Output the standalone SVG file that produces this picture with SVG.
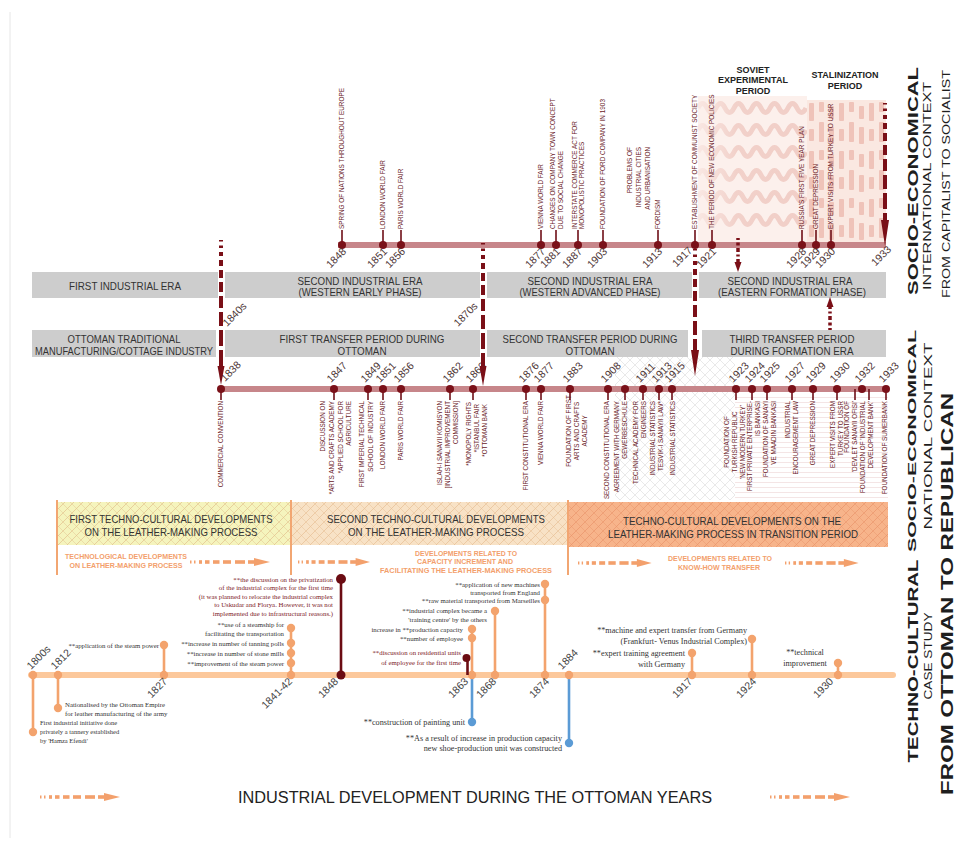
<svg xmlns="http://www.w3.org/2000/svg" width="963" height="847" viewBox="0 0 963 847">
<style>
  .sans{font-family:"Liberation Sans",Arial,sans-serif}
  .tl{font-family:"Liberation Sans",Arial,sans-serif;font-size:6.4px;fill:#6a2127}
  .nl{font-family:"Liberation Sans",Arial,sans-serif;font-size:6.3px;fill:#6a2127}
  .yr{font-family:"Liberation Sans",Arial,sans-serif;font-size:10.5px;fill:#4d3535}
  .yc{font-family:"Liberation Sans",Arial,sans-serif;font-size:10.5px;fill:#444}
  .bt{font-family:"Liberation Sans",Arial,sans-serif;font-size:11.5px;fill:#333;text-anchor:middle}
  .ot{font-family:"Liberation Sans",Arial,sans-serif;font-size:6.3px;font-weight:bold;fill:#f3a06c;text-anchor:middle}
  .cs{font-family:"Liberation Serif","Times New Roman",serif;font-size:6.8px;fill:#333}
  .cm{font-family:"Liberation Serif","Times New Roman",serif;font-size:6.8px;fill:#7d1a1f}
  .cl{font-family:"Liberation Serif","Times New Roman",serif;font-size:8.2px;fill:#333}
  .ti{font-family:"Liberation Sans",Arial,sans-serif;font-size:9px;font-weight:bold;fill:#222;text-anchor:middle}
  .side{font-family:"Liberation Sans",Arial,sans-serif;fill:#1e1e1e;text-anchor:middle}
  .band{fill:#cdcdcd}
  .stM{stroke:#6e0f17;stroke-width:1.6}
  .dM{fill:#7a1119}
  .mdash{stroke:#7a0f17;stroke-width:4;stroke-dasharray:1.5 4 2.5 4 4 4 6 4 8 4 10 4 12 4 14 4 16 4 18 4 20 4 22 4}
  .mtri{fill:#7a0f17}
  .so{stroke:#f3a36d;stroke-width:2.6}
  .do{fill:#f3a36d}
  .sm{stroke:#6b0c13;stroke-width:2.6}
  .dm{fill:#6b0c13}
  .sb{stroke:#5b9bd5;stroke-width:2.6}
  .db{fill:#5b9bd5}
  .wave{fill:none;stroke:url(#waveFade);stroke-width:5}
  .vl{stroke:#f2a672;stroke-width:2}
</style>
<defs>
  <linearGradient id="waveFade" x1="0" y1="0" x2="1" y2="0">
    <stop offset="0" stop-color="#edc2ba" stop-opacity="0.2"/>
    <stop offset="0.35" stop-color="#ebbcb3" stop-opacity="0.6"/>
    <stop offset="1" stop-color="#ebbcb3" stop-opacity="0.65"/>
  </linearGradient>
  <pattern id="stal" patternUnits="userSpaceOnUse" x="807" y="100" width="30" height="48">
    <rect width="30" height="48" fill="#fae8e1"/>
    <rect x="2" y="3" width="5" height="18" rx="1" fill="#efc3b9"/>
    <rect x="12" y="22" width="5" height="20" rx="1" fill="#efc3b9"/>
    <rect x="22" y="6" width="5" height="13" rx="1" fill="#efc3b9"/>
    <rect x="2" y="29" width="5" height="12" rx="1" fill="#efc3b9"/>
    <rect x="22" y="27" width="5" height="17" rx="1" fill="#efc3b9"/>
    <rect x="12" y="2" width="5" height="10" rx="1" fill="#efc3b9"/>
  </pattern>
  <pattern id="hY" patternUnits="userSpaceOnUse" width="9" height="9">
    <rect width="9" height="9" fill="#f5f4bd"/>
    <path d="M0,9 L9,0 M-2,2 L2,-2 M7,11 L11,7" stroke="#e2c08c" stroke-width="0.7"/>
    <path d="M0,0 L9,9" stroke="#e2c08c" stroke-width="0.45"/>
  </pattern>
  <pattern id="hP" patternUnits="userSpaceOnUse" width="9" height="9">
    <rect width="9" height="9" fill="#f8e2c6"/>
    <path d="M0,9 L9,0 M-2,2 L2,-2 M7,11 L11,7" stroke="#e6bf93" stroke-width="0.7"/>
    <path d="M0,0 L9,9" stroke="#e6bf93" stroke-width="0.45"/>
  </pattern>
  <pattern id="hO" patternUnits="userSpaceOnUse" width="9" height="9">
    <rect width="9" height="9" fill="#f7b48b"/>
    <path d="M0,9 L9,0 M-2,2 L2,-2 M7,11 L11,7" stroke="#e8946a" stroke-width="0.7"/>
    <path d="M0,0 L9,9" stroke="#e8946a" stroke-width="0.45"/>
  </pattern>
  <pattern id="xg" patternUnits="userSpaceOnUse" width="10" height="10">
    <path d="M0,10 L10,0 M0,0 L10,10" stroke="#d6d6d6" stroke-width="0.55"/>
  </pattern>
  <pattern id="hl" patternUnits="userSpaceOnUse" width="10" height="5">
    <path d="M0,2.5 L10,2.5" stroke="#efdada" stroke-width="0.7"/>
  </pattern>
  <!-- dashed orange progress arrow, 80 units long, centred on y=0 -->
  <g id="oarrow" fill="#f3a06c">
    <rect x="0" y="-1.5" width="1.5" height="3"/>
    <rect x="4" y="-1.5" width="1.5" height="3"/>
    <rect x="9" y="-1.8" width="3" height="3.6"/>
    <rect x="15" y="-1.8" width="4.5" height="3.6"/>
    <rect x="23" y="-1.8" width="6.5" height="3.6"/>
    <rect x="33" y="-1.8" width="8" height="3.6"/>
    <rect x="45" y="-1.8" width="10" height="3.6"/>
    <rect x="58" y="-1.8" width="8" height="3.6"/>
    <polygon points="64,-4 80,0 64,4"/>
  </g>
</defs>

<rect width="963" height="847" fill="#ffffff"/>
<line x1="10" y1="12" x2="10" y2="838" stroke="#e6e6e6" stroke-width="1"/>

<!-- ============ INTERNATIONAL CONTEXT ============ -->
<g id="soviet-experimental">
  <rect x="698" y="96" width="109" height="146" fill="#fcf0ec"/>
  <path class="wave" d="M698,108 q4.5,-9 9,0 t9,0 t9,0 t9,0 t9,0 t9,0 t9,0 t9,0 t9,0 t9,0 t9,0 t9,0"/>
  <path class="wave" d="M698,130 q4.5,-9 9,0 t9,0 t9,0 t9,0 t9,0 t9,0 t9,0 t9,0 t9,0 t9,0 t9,0 t9,0"/>
  <path class="wave" d="M698,152 q4.5,-9 9,0 t9,0 t9,0 t9,0 t9,0 t9,0 t9,0 t9,0 t9,0 t9,0 t9,0 t9,0"/>
  <path class="wave" d="M698,175 q4.5,-9 9,0 t9,0 t9,0 t9,0 t9,0 t9,0 t9,0 t9,0 t9,0 t9,0 t9,0 t9,0"/>
  <path class="wave" d="M698,197 q4.5,-9 9,0 t9,0 t9,0 t9,0 t9,0 t9,0 t9,0 t9,0 t9,0 t9,0 t9,0 t9,0"/>
  <path class="wave" d="M698,220 q4.5,-9 9,0 t9,0 t9,0 t9,0 t9,0 t9,0 t9,0 t9,0 t9,0 t9,0 t9,0 t9,0"/>
  <text class="ti" x="753" y="73">SOVIET</text>
  <text class="ti" x="753" y="83">EXPERIMENTAL</text>
  <text class="ti" x="753" y="94">PERIOD</text>
</g>
<g id="stalinization">
  <rect x="807" y="100" width="79" height="142" fill="url(#stal)"/>
  <text class="ti" x="845" y="78">STALINIZATION</text>
  <text class="ti" x="845" y="89">PERIOD</text>
</g>

<g id="intl-timeline">
  <rect x="338" y="242" width="548" height="6" fill="#c7868a"/>
</g>

<g id="intl-1848"><line class="stM" x1="342" y1="245" x2="342" y2="230"/><circle class="dM" cx="342" cy="245" r="4"/>
  <text class="tl" transform="translate(344.2,229) rotate(-90)">SPRING OF NATIONS THROUGHOUT EUROPE</text>
  <text class="yr" text-anchor="end" transform="translate(347,252) rotate(-45)">1848</text></g>
<g id="intl-1851"><line class="stM" x1="383" y1="245" x2="383" y2="230"/><circle class="dM" cx="383" cy="245" r="4"/>
  <text class="tl" transform="translate(385.2,229) rotate(-90)">LONDON WORLD FAIR</text>
  <text class="yr" text-anchor="end" transform="translate(388,252) rotate(-45)">1851</text></g>
<g id="intl-1856"><line class="stM" x1="401" y1="245" x2="401" y2="230"/><circle class="dM" cx="401" cy="245" r="4"/>
  <text class="tl" transform="translate(403.2,229) rotate(-90)">PARIS WORLD FAIR</text>
  <text class="yr" text-anchor="end" transform="translate(406,252) rotate(-45)">1856</text></g>
<g id="intl-1877"><line class="stM" x1="541" y1="245" x2="541" y2="230"/><circle class="dM" cx="541" cy="245" r="4"/>
  <text class="tl" transform="translate(543.2,229) rotate(-90)">VIENNA WORLD FAIR</text>
  <text class="yr" text-anchor="end" transform="translate(546,252) rotate(-45)">1877</text></g>
<g id="intl-1881"><line class="stM" x1="556" y1="245" x2="556" y2="230"/><circle class="dM" cx="556" cy="245" r="4"/>
  <text class="tl" transform="translate(554.7,229) rotate(-90)">CHANGES ON COMPANY TOWN CONCEPT</text>
  <text class="tl" transform="translate(562.7,229) rotate(-90)">DUE TO SOCIAL CHANGE</text>
  <text class="yr" text-anchor="end" transform="translate(561,252) rotate(-45)">1881</text></g>
<g id="intl-1887"><line class="stM" x1="578" y1="245" x2="578" y2="230"/><circle class="dM" cx="578" cy="245" r="4"/>
  <text class="tl" transform="translate(576.7,229) rotate(-90)">INTERSTATE COMMERCE ACT FOR</text>
  <text class="tl" transform="translate(584.2,229) rotate(-90)">MONOPOLISTIC PRACTICES</text>
  <text class="yr" text-anchor="end" transform="translate(583,252) rotate(-45)">1887</text></g>
<g id="intl-1903"><line class="stM" x1="603" y1="245" x2="603" y2="230"/><circle class="dM" cx="603" cy="245" r="4"/>
  <text class="tl" transform="translate(605.2,229) rotate(-90)">FOUNDATION OF FORD COMPANY IN 1903</text>
  <text class="yr" text-anchor="end" transform="translate(608,252) rotate(-45)">1903</text></g>
<g id="intl-1913"><line class="stM" x1="658" y1="245" x2="658" y2="230"/><circle class="dM" cx="658" cy="245" r="4"/>
  <text class="tl" transform="translate(660.2,229) rotate(-90)">FORDISM</text>
  <text class="tl" text-anchor="end" transform="translate(632.2,147) rotate(-90)">PROBLEMS OF</text>
  <text class="tl" text-anchor="end" transform="translate(641.2,147) rotate(-90)">INDUSTRIAL CITIES</text>
  <text class="tl" text-anchor="end" transform="translate(649.7,147) rotate(-90)">AND URBANISATION</text>
  <text class="yr" text-anchor="end" transform="translate(663,252) rotate(-45)">1913</text></g>
<g id="intl-1917"><line class="stM" x1="695" y1="245" x2="695" y2="230"/><circle class="dM" cx="695" cy="245" r="4"/>
  <text class="tl" transform="translate(697.2,229) rotate(-90)">ESTABLISHMENT OF COMMUNIST SOCIETY</text>
  <text class="yr" text-anchor="end" transform="translate(693,251) rotate(-45)">1917</text></g>
<g id="intl-1921"><line class="stM" x1="712" y1="245" x2="712" y2="230"/><circle class="dM" cx="712" cy="245" r="4"/>
  <text class="tl" transform="translate(714.2,229) rotate(-90)">THE PERIOD OF NEW ECONOMIC POLICIES</text>
  <text class="yr" text-anchor="end" transform="translate(717,252) rotate(-45)">1921</text></g>
<g id="intl-1928"><line class="stM" x1="802" y1="245" x2="802" y2="230"/><circle class="dM" cx="802" cy="245" r="4"/>
  <text class="tl" transform="translate(804.2,229) rotate(-90)">RUSSIA'S FIRST FIVE YEAR PLAN</text>
  <text class="yr" text-anchor="end" transform="translate(807,252) rotate(-45)">1928</text></g>
<g id="intl-1929"><line class="stM" x1="816" y1="245" x2="816" y2="230"/><circle class="dM" cx="816" cy="245" r="4"/>
  <text class="tl" transform="translate(818.2,229) rotate(-90)">GREAT DEPRESSION</text>
  <text class="yr" text-anchor="end" transform="translate(821,252) rotate(-45)">1929</text></g>
<g id="intl-1930"><line class="stM" x1="831" y1="245" x2="831" y2="230"/><circle class="dM" cx="831" cy="245" r="4"/>
  <text class="tl" transform="translate(833.2,229) rotate(-90)">EXPERT VISITS FROM TURKEY TO USSR</text>
  <text class="yr" text-anchor="end" transform="translate(836,252) rotate(-45)">1930</text></g>
<g id="intl-1933">
  <text class="yr" text-anchor="end" transform="translate(892,250) rotate(-45)">1933</text></g>

<!-- era bands -->
<g id="era-first"><rect class="band" x="32" y="272" width="186" height="26"/>
  <text class="bt" x="125" y="289.5" textLength="112" lengthAdjust="spacingAndGlyphs">FIRST INDUSTRIAL ERA</text></g>
<g id="era-western-early"><rect class="band" x="225" y="272" width="255" height="26"/>
  <text class="bt" x="360" y="284.5" textLength="125" lengthAdjust="spacingAndGlyphs">SECOND INDUSTRIAL ERA</text>
  <text class="bt" x="360" y="296" textLength="123" lengthAdjust="spacingAndGlyphs">(WESTERN EARLY PHASE)</text></g>
<g id="era-western-advanced"><rect class="band" x="487" y="272" width="205" height="26"/>
  <text class="bt" x="590" y="284.5" textLength="125" lengthAdjust="spacingAndGlyphs">SECOND INDUSTRIAL ERA</text>
  <text class="bt" x="590" y="296" textLength="141" lengthAdjust="spacingAndGlyphs">(WESTERN ADVANCED PHASE)</text></g>
<g id="era-eastern"><rect class="band" x="699" y="272" width="187" height="26"/>
  <text class="bt" x="790" y="284.5" textLength="125" lengthAdjust="spacingAndGlyphs">SECOND INDUSTRIAL ERA</text>
  <text class="bt" x="792" y="296" textLength="148" lengthAdjust="spacingAndGlyphs">(EASTERN FORMATION PHASE)</text></g>

<g id="transfer-traditional"><rect class="band" x="32" y="330" width="184" height="27"/>
  <text class="bt" x="124" y="342.5" textLength="113" lengthAdjust="spacingAndGlyphs">OTTOMAN TRADITIONAL</text>
  <text class="bt" x="124" y="355" textLength="178" lengthAdjust="spacingAndGlyphs">MANUFACTURING/COTTAGE INDUSTRY</text></g>
<g id="transfer-first"><rect class="band" x="225" y="330" width="255" height="27"/>
  <text class="bt" x="362" y="342.5" textLength="165" lengthAdjust="spacingAndGlyphs">FIRST TRANSFER PERIOD DURING</text>
  <text class="bt" x="362" y="355" textLength="49" lengthAdjust="spacingAndGlyphs">OTTOMAN</text></g>
<g id="transfer-second"><rect class="band" x="487" y="330" width="201" height="27"/>
  <text class="bt" x="590" y="342.5" textLength="175" lengthAdjust="spacingAndGlyphs">SECOND TRANSFER PERIOD DURING</text>
  <text class="bt" x="590" y="355" textLength="49" lengthAdjust="spacingAndGlyphs">OTTOMAN</text></g>
<g id="transfer-third"><rect class="band" x="702" y="330" width="184" height="27"/>
  <text class="bt" x="792" y="342.5" textLength="125" lengthAdjust="spacingAndGlyphs">THIRD TRANSFER PERIOD</text>
  <text class="bt" x="792" y="355" textLength="123" lengthAdjust="spacingAndGlyphs">DURING FORMATION ERA</text></g>

<!-- ============ NATIONAL CONTEXT ============ -->
<g id="nat-texture">
  <rect x="615" y="357" width="120" height="143" fill="url(#xg)"/>
  <rect x="735" y="394" width="153" height="106" fill="url(#hl)"/>
</g>
<g id="nat-timeline"><rect x="218" y="386" width="668" height="6" fill="#c7868a"/></g>

<g id="nat-1838"><line class="stM" x1="221" y1="389" x2="221" y2="400"/><circle class="dM" cx="221" cy="389" r="4"/>
  <text class="nl" text-anchor="end" transform="translate(223.3,401) rotate(-90)">COMMERCIAL CONVENTION</text>
  <text class="yr" transform="translate(225,382) rotate(-45)">1838</text></g>
<g id="nat-1847"><line class="stM" x1="334" y1="389" x2="334" y2="400"/><circle class="dM" cx="334" cy="389" r="4"/>
  <text class="nl" text-anchor="end" transform="translate(325.3,401) rotate(-90)">DISCUSSION ON</text>
  <text class="nl" text-anchor="end" transform="translate(334.3,401) rotate(-90)">*ARTS AND CRAFTS ACADEMY</text>
  <text class="nl" text-anchor="end" transform="translate(343.3,401) rotate(-90)">*APPLIED SCHOOL FOR</text>
  <text class="nl" text-anchor="end" transform="translate(351.3,401) rotate(-90)">AGRICULTURE</text>
  <text class="yr" transform="translate(331,383) rotate(-45)">1847</text></g>
<g id="nat-1849"><line class="stM" x1="368" y1="389" x2="368" y2="400"/><circle class="dM" cx="368" cy="389" r="4"/>
  <text class="nl" text-anchor="end" transform="translate(364.3,401) rotate(-90)">FIRST IMPERIAL TECHNICAL</text>
  <text class="nl" text-anchor="end" transform="translate(373.3,401) rotate(-90)">SCHOOL OF INDUSTRY</text>
  <text class="yr" transform="translate(365,383) rotate(-45)">1849</text></g>
<g id="nat-1851"><line class="stM" x1="383" y1="389" x2="383" y2="400"/><circle class="dM" cx="383" cy="389" r="4"/>
  <text class="nl" text-anchor="end" transform="translate(385.3,401) rotate(-90)">LONDON WORLD FAIR</text>
  <text class="yr" transform="translate(380,383) rotate(-45)">1851</text></g>
<g id="nat-1856"><line class="stM" x1="401" y1="389" x2="401" y2="400"/><circle class="dM" cx="401" cy="389" r="4"/>
  <text class="nl" text-anchor="end" transform="translate(403.3,401) rotate(-90)">PARIS WORLD FAIR</text>
  <text class="yr" transform="translate(398,383) rotate(-45)">1856</text></g>
<g id="nat-1862"><line class="stM" x1="450" y1="389" x2="450" y2="400"/><circle class="dM" cx="450" cy="389" r="4"/>
  <text class="nl" text-anchor="end" transform="translate(442.3,401) rotate(-90)">ISLAH-I SANAYII KOMISYON</text>
  <text class="nl" text-anchor="end" transform="translate(450.3,401) rotate(-90)">[INDUSTRIAL IMPROVEMENT</text>
  <text class="nl" text-anchor="end" transform="translate(458.3,401) rotate(-90)">COMMISSION]</text>
  <text class="yr" transform="translate(447,383) rotate(-45)">1862</text></g>
<g id="nat-1863"><line class="stM" x1="473" y1="389" x2="473" y2="400"/><circle class="dM" cx="473" cy="389" r="4"/>
  <text class="nl" text-anchor="end" transform="translate(471.3,402) rotate(-90)">*MONOPOLY RIGHTS</text>
  <text class="nl" text-anchor="end" transform="translate(479.3,404) rotate(-90)">*ISTANBUL FAIR</text>
  <text class="nl" text-anchor="end" transform="translate(487.3,404) rotate(-90)">*OTTOMAN BANK</text>
  <text class="yr" transform="translate(470,383) rotate(-45)">1863</text></g>
<g id="nat-1876"><line class="stM" x1="526" y1="389" x2="526" y2="400"/><circle class="dM" cx="526" cy="389" r="4"/>
  <text class="nl" text-anchor="end" transform="translate(528.3,401) rotate(-90)">FIRST CONSTITUTIONAL ERA</text>
  <text class="yr" transform="translate(523,383) rotate(-45)">1876</text></g>
<g id="nat-1877"><line class="stM" x1="541" y1="389" x2="541" y2="400"/><circle class="dM" cx="541" cy="389" r="4"/>
  <text class="nl" text-anchor="end" transform="translate(543.3,401) rotate(-90)">VIENNA WORLD FAIR</text>
  <text class="yr" transform="translate(538,383) rotate(-45)">1877</text></g>
<g id="nat-1883"><line class="stM" x1="570" y1="389" x2="570" y2="400"/><circle class="dM" cx="570" cy="389" r="4"/>
  <text class="nl" text-anchor="middle" transform="translate(571.3,431) rotate(-90)">FOUNDATION OF FIRST</text>
  <text class="nl" text-anchor="middle" transform="translate(579.3,431) rotate(-90)">ARTS AND CRAFTS</text>
  <text class="nl" text-anchor="middle" transform="translate(587.3,431) rotate(-90)">ACADEMY</text>
  <text class="yr" transform="translate(567,383) rotate(-45)">1883</text></g>
<g id="nat-1908"><line class="stM" x1="608" y1="389" x2="608" y2="400"/><circle class="dM" cx="608" cy="389" r="4"/>
  <text class="nl" text-anchor="end" transform="translate(609.3,401) rotate(-90)">SECOND CONSTITUTIONAL ERA</text>
  <text class="yr" transform="translate(605,383) rotate(-45)">1908</text></g>
<g id="nat-1908-germany"><line class="stM" x1="625" y1="389" x2="625" y2="400"/><circle class="dM" cx="625" cy="389" r="4"/>
  <text class="nl" text-anchor="end" transform="translate(619.3,401) rotate(-90)">AGREEMENT WITH GERMANY</text>
  <text class="nl" text-anchor="end" transform="translate(627.3,401) rotate(-90)">GEWERBESCHULE</text></g>
<g id="nat-1911"><line class="stM" x1="643" y1="389" x2="643" y2="400"/><circle class="dM" cx="643" cy="389" r="4"/>
  <text class="nl" text-anchor="end" transform="translate(638.3,401) rotate(-90)">TECHNICAL ACADEMY FOR</text>
  <text class="nl" text-anchor="end" transform="translate(646.3,401) rotate(-90)">ENGINEERS</text>
  <text class="yr" transform="translate(640,383) rotate(-45)">1911</text></g>
<g id="nat-1913"><line class="stM" x1="659" y1="389" x2="659" y2="400"/><circle class="dM" cx="659" cy="389" r="4"/>
  <text class="nl" text-anchor="end" transform="translate(655.3,401) rotate(-90)">INDUSTRIAL STATISTICS</text>
  <text class="nl" text-anchor="end" transform="translate(663.3,401) rotate(-90)">TESVIK-I SANAYII LAW*</text>
  <text class="yr" transform="translate(656,383) rotate(-45)">1913</text></g>
<g id="nat-1915"><line class="stM" x1="672" y1="389" x2="672" y2="400"/><circle class="dM" cx="672" cy="389" r="4"/>
  <text class="nl" text-anchor="end" transform="translate(675.3,401) rotate(-90)">INDUSTRIAL STATISTICS</text>
  <text class="yr" transform="translate(669,383) rotate(-45)">1915</text></g>
<g id="nat-1923"><line class="stM" x1="736" y1="389" x2="736" y2="400"/><circle class="dM" cx="736" cy="389" r="4"/>
  <text class="nl" text-anchor="middle" transform="translate(729.3,442) rotate(-90)">FOUNDATION OF</text>
  <text class="nl" text-anchor="middle" transform="translate(737.3,442) rotate(-90)">TURKISH REPUBLIC</text>
  <text class="nl" text-anchor="middle" transform="translate(745.3,442) rotate(-90)">'NEW MODERN TURKEY'</text>
  <text class="yr" transform="translate(733,383) rotate(-45)">1923</text></g>
<g id="nat-1924"><line class="stM" x1="752" y1="389" x2="752" y2="400"/><circle class="dM" cx="752" cy="389" r="4"/>
  <text class="nl" text-anchor="end" transform="translate(752.3,401) rotate(-90)">FIRST PRIVATE ENTERPRISE-</text>
  <text class="nl" text-anchor="end" transform="translate(760.3,401) rotate(-90)">IS BANKASI</text>
  <text class="yr" transform="translate(749,383) rotate(-45)">1924</text></g>
<g id="nat-1925"><line class="stM" x1="767" y1="389" x2="767" y2="400"/><circle class="dM" cx="767" cy="389" r="4"/>
  <text class="nl" text-anchor="end" transform="translate(768.3,401) rotate(-90)">FOUNDATION OF SANAYI</text>
  <text class="nl" text-anchor="end" transform="translate(776.3,401) rotate(-90)">VE MAADIN BANKASI</text>
  <text class="yr" transform="translate(764,383) rotate(-45)">1925</text></g>
<g id="nat-1927"><line class="stM" x1="792" y1="389" x2="792" y2="400"/><circle class="dM" cx="792" cy="389" r="4"/>
  <text class="nl" text-anchor="end" transform="translate(790.3,401) rotate(-90)">INDUSTRIAL</text>
  <text class="nl" text-anchor="end" transform="translate(798.3,401) rotate(-90)">ENCOURAGEMENT LAW</text>
  <text class="yr" transform="translate(789,383) rotate(-45)">1927</text></g>
<g id="nat-1929"><line class="stM" x1="813" y1="389" x2="813" y2="400"/><circle class="dM" cx="813" cy="389" r="4"/>
  <text class="nl" text-anchor="end" transform="translate(815.3,401) rotate(-90)">GREAT DEPRESSION</text>
  <text class="yr" transform="translate(810,383) rotate(-45)">1929</text></g>
<g id="nat-1930"><line class="stM" x1="837" y1="389" x2="837" y2="400"/><circle class="dM" cx="837" cy="389" r="4"/>
  <text class="nl" text-anchor="end" transform="translate(835.3,401) rotate(-90)">EXPERT VISITS FROM</text>
  <text class="nl" text-anchor="end" transform="translate(843.3,401) rotate(-90)">TURKEY TO USSR</text>
  <text class="yr" transform="translate(834,383) rotate(-45)">1930</text></g>
<g id="nat-1932"><line class="stM" x1="855" y1="389" x2="855" y2="400"/><line class="stM" x1="869" y1="389" x2="869" y2="400"/><circle class="dM" cx="862" cy="389" r="4"/>
  <text class="nl" text-anchor="end" transform="translate(849.3,401) rotate(-90)">FOUNDATION OF</text>
  <text class="nl" text-anchor="end" transform="translate(857.3,401) rotate(-90)">'DEVLET SANAYII OFISI'</text>
  <text class="nl" text-anchor="end" transform="translate(865.3,401) rotate(-90)">FOUNDATION OF 'INDUSTRIAL</text>
  <text class="nl" text-anchor="end" transform="translate(873.3,401) rotate(-90)">DEVELOPMENT BANK'</text>
  <text class="yr" transform="translate(859,383) rotate(-45)">1932</text></g>
<g id="nat-1933"><line class="stM" x1="886" y1="389" x2="886" y2="400"/><circle class="dM" cx="886" cy="389" r="4"/>
  <text class="nl" text-anchor="end" transform="translate(887.3,401) rotate(-90)">FOUNDATION OF SUMERBANK</text>
  <text class="yr" transform="translate(883,383) rotate(-45)">1933</text></g>

<!-- period divider arrows -->
<g id="connectors">
  <line class="mdash" x1="221" y1="240" x2="221" y2="368"/>
  <polygon class="mtri" points="217.5,366 224.5,366 221,385"/>
  <text class="yr" transform="translate(227,327) rotate(-45)">1840s</text>
  <line class="mdash" x1="483" y1="243" x2="483" y2="368"/>
  <polygon class="mtri" points="479.5,366 486.5,366 483,386"/>
  <text class="yr" transform="translate(458,327) rotate(-45)">1870s</text>
  <line class="mdash" x1="695" y1="249" x2="695" y2="352"/>
  <polygon class="mtri" points="691,350 699,350 695,376"/>
  <line class="mdash" x1="885" y1="103" x2="885" y2="222"/>
  <polygon class="mtri" points="881,220 889,220 885,246"/>
  <line stroke="#7a0f17" stroke-width="3.5" stroke-dasharray="2 2.5 3 2.5 4 2.5" x1="738" y1="238" x2="738" y2="263"/>
  <polygon class="mtri" points="734.5,262 741.5,262 738,272"/>
  <line stroke="#7a0f17" stroke-width="3.5" stroke-dasharray="2 2.5 3 2.5 4 2.5" x1="830" y1="330" x2="830" y2="306"/>
  <polygon class="mtri" points="826.5,307 833.5,307 830,297"/>
</g>

<!-- ============ TECHNO-CULTURAL BANDS ============ -->
<g id="techno-first">
  <rect x="57" y="502" width="234" height="43" fill="url(#hY)"/>
  <text class="bt" x="171" y="523" textLength="203" lengthAdjust="spacingAndGlyphs">FIRST TECHNO-CULTURAL DEVELOPMENTS</text>
  <text class="bt" x="171" y="536" textLength="173" lengthAdjust="spacingAndGlyphs">ON THE LEATHER-MAKING PROCESS</text>
  <text class="ot" x="126" y="559" textLength="122" lengthAdjust="spacingAndGlyphs">TECHNOLOGICAL DEVELOPMENTS</text>
  <text class="ot" x="126" y="568" textLength="113" lengthAdjust="spacingAndGlyphs">ON LEATHER-MAKING PROCESS</text>
  <use href="#oarrow" transform="translate(190,562)"/>
</g>
<g id="techno-second">
  <rect x="291" y="502" width="277" height="43" fill="url(#hP)"/>
  <text class="bt" x="436" y="523" textLength="218" lengthAdjust="spacingAndGlyphs">SECOND TECHNO-CULTURAL DEVELOPMENTS</text>
  <text class="bt" x="436" y="536" textLength="176" lengthAdjust="spacingAndGlyphs">ON THE LEATHER-MAKING PROCESS</text>
  <text class="ot" x="466" y="555.5" textLength="102" lengthAdjust="spacingAndGlyphs">DEVELOPMENTS RELATED TO</text>
  <text class="ot" x="465" y="564" textLength="96" lengthAdjust="spacingAndGlyphs">CAPACITY INCREMENT AND</text>
  <text class="ot" x="466" y="572.5" textLength="172" lengthAdjust="spacingAndGlyphs">FACILITATING THE LEATHER-MAKING PROCESS</text>
  <use href="#oarrow" transform="translate(298,562) scale(0.9,1)"/>
</g>
<g id="techno-transition">
  <rect x="568" y="502" width="320" height="45" fill="url(#hO)"/>
  <text class="bt" x="732" y="525" textLength="218" lengthAdjust="spacingAndGlyphs">TECHNO-CULTURAL DEVELOPMENTS ON THE</text>
  <text class="bt" x="733" y="537.5" textLength="250" lengthAdjust="spacingAndGlyphs">LEATHER-MAKING PROCESS IN TRANSITION PERIOD</text>
  <text class="ot" x="720" y="561" textLength="104" lengthAdjust="spacingAndGlyphs">DEVELOPMENTS RELATED TO</text>
  <text class="ot" x="719" y="570" textLength="82" lengthAdjust="spacingAndGlyphs">KNOW-HOW TRANSFER</text>
  <use href="#oarrow" transform="translate(578,563) scale(0.92,1)"/>
  <use href="#oarrow" transform="translate(785,563) scale(0.92,1)"/>
</g>
<g id="techno-dividers">
  <line class="vl" x1="57" y1="500" x2="57" y2="575"/>
  <line class="vl" x1="291" y1="500" x2="291" y2="575"/>
  <line class="vl" x1="568" y1="500" x2="568" y2="575"/>
</g>

<!-- ============ CASE STUDY TIMELINE ============ -->
<g id="cs-timeline"><rect x="28" y="672" width="868" height="6" rx="3" fill="#fcc89b"/></g>

<g id="cs-1800s"><line class="so" x1="33" y1="675" x2="33" y2="732"/><circle class="do" cx="33" cy="675" r="4.2"/><circle class="do" cx="33" cy="732" r="4.2"/>
  <text class="yc" transform="translate(31,670) rotate(-45)">1800s</text>
  <text class="cs" style="font-size:6.5px" x="40" y="724.5">First industrial initiative done</text>
  <text class="cs" style="font-size:6.5px" x="40" y="733.5">privately a tannery established</text>
  <text class="cs" style="font-size:6.5px" x="40" y="742.5">by 'Hamza Efendi'</text></g>
<g id="cs-1812"><line class="so" x1="58" y1="675" x2="58" y2="708"/><circle class="do" cx="58" cy="675" r="4.2"/><circle class="do" cx="58" cy="708" r="4.2"/>
  <text class="yc" transform="translate(55,670) rotate(-45)">1812</text>
  <text class="cs" x="65" y="706.5">Nationalised by the Ottoman Empire</text>
  <text class="cs" x="65" y="715.5">for leather manufacturing of the army</text></g>
<g id="cs-1827"><line class="so" x1="164" y1="675" x2="164" y2="645"/><circle class="do" cx="164" cy="675" r="4.2"/><circle class="do" cx="164" cy="645" r="4.2"/>
  <text class="yc" text-anchor="end" transform="translate(168,682) rotate(-45)">1827</text>
  <text class="cs" text-anchor="end" x="159" y="647.5">**application of the steam power</text></g>
<g id="cs-1841"><line class="so" x1="291" y1="675" x2="291" y2="628"/>
  <circle class="do" cx="291" cy="675" r="4.2"/><circle class="do" cx="291" cy="663" r="4.2"/><circle class="do" cx="291" cy="653" r="4.2"/><circle class="do" cx="291" cy="643" r="4.2"/><circle class="do" cx="291" cy="628" r="4.2"/>
  <text class="yc" text-anchor="end" transform="translate(293,682) rotate(-45)">1841-42</text>
  <text class="cs" text-anchor="end" x="284" y="626.5">**use of a steamship for</text>
  <text class="cs" text-anchor="end" x="284" y="635.5">facilitating the transportation</text>
  <text class="cs" text-anchor="end" x="284" y="645.5">**increase in number of tanning polls</text>
  <text class="cs" text-anchor="end" x="284" y="655.5">**increase in number of stone mills</text>
  <text class="cs" text-anchor="end" x="284" y="666">**improvement of the steam power</text></g>
<g id="cs-1848"><line class="sm" x1="341" y1="675" x2="341" y2="579"/><circle class="dm" cx="341" cy="675" r="4.5"/><circle class="dm" cx="341" cy="579" r="5"/>
  <text class="yc" text-anchor="end" transform="translate(339,682) rotate(-45)">1848</text>
  <text class="cm" text-anchor="end" x="333" y="581.5">**the discussion on the privatization</text>
  <text class="cm" text-anchor="end" x="333" y="590">of the industrial complex for the first time</text>
  <text class="cm" text-anchor="end" x="333" y="598.5">(it was planned to relocate the industrial complex</text>
  <text class="cm" text-anchor="end" x="333" y="607">to Uskudar and Florya. However, it was not</text>
  <text class="cm" text-anchor="end" x="333" y="615.5">implemented due to infrastructural reasons.)</text></g>
<g id="cs-1863">
  <line class="so" x1="472" y1="675" x2="472" y2="629"/><circle class="do" cx="472" cy="629" r="4.2"/><circle class="do" cx="472" cy="638" r="4.2"/>
  <line class="sb" x1="472" y1="675" x2="472" y2="722"/><circle class="db" cx="472" cy="722" r="4.2"/>
  <circle class="do" cx="472" cy="675" r="4.2"/>
  <line class="sm" x1="467.5" y1="675" x2="467.5" y2="658"/><circle class="dm" cx="466.5" cy="658" r="4"/>
  <text class="yc" text-anchor="end" transform="translate(469,682) rotate(-45)">1863</text>
  <text class="cs" text-anchor="end" x="463" y="631.5">increase in **production capacity</text>
  <text class="cs" text-anchor="end" x="463" y="640.5">**number of employee</text>
  <text class="cm" text-anchor="end" x="461" y="654.5">**discussion on residential units</text>
  <text class="cm" text-anchor="end" x="461" y="664.5">of employee for the first time</text>
  <text class="cl" text-anchor="end" x="465" y="725">**construction of painting unit</text></g>
<g id="cs-1868"><line class="so" x1="495" y1="675" x2="495" y2="611"/><circle class="do" cx="495" cy="675" r="4.2"/><circle class="do" cx="495" cy="611" r="4.2"/>
  <text class="yc" text-anchor="end" transform="translate(497,682) rotate(-45)">1868</text>
  <text class="cs" text-anchor="end" x="487" y="613">**industrial complex became a</text>
  <text class="cs" text-anchor="end" x="487" y="622">'training centre' by the others</text></g>
<g id="cs-1874"><line class="so" x1="545" y1="675" x2="545" y2="584"/><circle class="do" cx="545" cy="675" r="4.2"/><circle class="do" cx="545" cy="584" r="4.2"/><circle class="do" cx="545" cy="600" r="4.2"/>
  <text class="yc" text-anchor="end" transform="translate(550,682) rotate(-45)">1874</text>
  <text class="cs" text-anchor="end" x="540" y="586.5">**application of new machines</text>
  <text class="cs" text-anchor="end" x="540" y="594.5">transported from England</text>
  <text class="cs" text-anchor="end" x="540" y="602.5">**raw material transported from Marseilles</text></g>
<g id="cs-1884"><line class="sb" x1="569" y1="675" x2="569" y2="743"/><circle class="do" cx="569" cy="675" r="4.2"/><circle class="db" cx="569" cy="743" r="4.2"/>
  <text class="yc" transform="translate(562,670) rotate(-45)">1884</text>
  <text class="cl" text-anchor="end" x="562" y="740.5">**As a result of increase in production capacity</text>
  <text class="cl" text-anchor="end" x="562" y="751">new shoe-production unit was constructed</text></g>
<g id="cs-1917"><line class="so" x1="692" y1="675" x2="692" y2="653"/><circle class="do" cx="692" cy="675" r="4.2"/><circle class="do" cx="692" cy="653" r="4.2"/>
  <text class="yc" text-anchor="end" transform="translate(693,682) rotate(-45)">1917</text>
  <text class="cl" text-anchor="end" x="685" y="655.5">**expert training agreement</text>
  <text class="cl" text-anchor="end" x="685" y="666.5">with Germany</text></g>
<g id="cs-1924"><line class="so" x1="752" y1="675" x2="752" y2="639"/><circle class="do" cx="752" cy="675" r="4.2"/><circle class="do" cx="752" cy="639" r="4.2"/>
  <text class="yc" text-anchor="end" transform="translate(757,682) rotate(-45)">1924</text>
  <text class="cl" text-anchor="end" x="747" y="632.5">**machine and expert transfer from Germany</text>
  <text class="cl" text-anchor="end" x="747" y="644">(Frankfurt- Venus Industrial Complex)</text></g>
<g id="cs-1930"><line class="so" x1="838" y1="675" x2="838" y2="663"/><circle class="do" cx="838" cy="675" r="4.2"/><circle class="do" cx="838" cy="663" r="4.2"/>
  <text class="yc" text-anchor="end" transform="translate(834,682) rotate(-45)">1930</text>
  <text class="cl" text-anchor="middle" x="805" y="654.5">**technical</text>
  <text class="cl" text-anchor="middle" x="805" y="665.5">improvement</text></g>

<!-- ============ FOOTER ============ -->
<g id="footer">
  <use href="#oarrow" transform="translate(40,797)"/>
  <text class="sans" x="475" y="803" text-anchor="middle" font-size="16" fill="#222" textLength="474" lengthAdjust="spacingAndGlyphs">INDUSTRIAL DEVELOPMENT DURING THE OTTOMAN YEARS</text>
  <use href="#oarrow" transform="translate(770,797)"/>
</g>

<!-- ============ SIDE HEADINGS ============ -->
<g id="side-international">
  <text class="side" font-size="14" font-weight="bold" transform="translate(918,181) rotate(-90)" textLength="228" lengthAdjust="spacingAndGlyphs">SOCIO-ECONOMICAL</text>
  <text class="side" font-size="11" transform="translate(931,186) rotate(-90)" textLength="208" lengthAdjust="spacingAndGlyphs">INTERNATIONAL CONTEXT</text>
  <text class="side" font-size="11.5" transform="translate(949.5,184) rotate(-90)" textLength="228" lengthAdjust="spacingAndGlyphs">FROM CAPITALIST TO SOCIALIST</text>
</g>
<g id="side-national">
  <text class="side" font-size="11.5" font-weight="bold" transform="translate(916,441) rotate(-90)" textLength="222" lengthAdjust="spacingAndGlyphs">SOCIO-ECONOMICAL</text>
  <text class="side" font-size="11" transform="translate(932,436) rotate(-90)" textLength="187" lengthAdjust="spacingAndGlyphs">NATIONAL CONTEXT</text>
</g>
<g id="side-case">
  <text class="side" font-size="14" font-weight="bold" transform="translate(918,661) rotate(-90)" textLength="203" lengthAdjust="spacingAndGlyphs">TECHNO-CULTURAL</text>
  <text class="side" font-size="11" transform="translate(932,656) rotate(-90)" textLength="87" lengthAdjust="spacingAndGlyphs">CASE STUDY</text>
  <text class="side" font-size="16" font-weight="bold" transform="translate(953,594) rotate(-90)" textLength="402" lengthAdjust="spacingAndGlyphs">FROM OTTOMAN TO REPUBLICAN</text>
</g>
</svg>
